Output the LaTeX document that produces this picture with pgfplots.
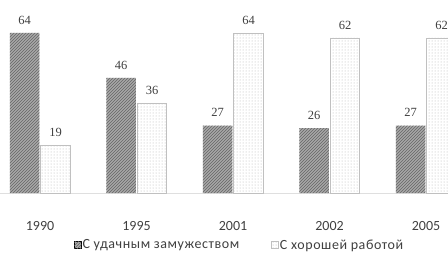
\documentclass[border=0pt]{standalone}
\usepackage{pgfplots}
\pgfplotsset{compat=1.18}
\usepackage{fontspec}
\setmainfont{Carlito}
\newfontfamily\numfont{Liberation Serif}
\usetikzlibrary{patterns}
\definecolor{darkfill}{HTML}{A8A8A8}
\definecolor{darkline}{HTML}{666666}
\definecolor{lightdot}{HTML}{B4B4B4}
\definecolor{lightborder}{HTML}{C0C0C0}
\definecolor{txt}{HTML}{404040}
\begin{document}
\begin{tikzpicture}
\begin{axis}[
  name=ax,
  scale only axis,
  width=448pt, height=193pt,
  xmin=-0.415, xmax=4.228,
  ymin=0, ymax=77.2,
  ybar=1.5pt,
  bar width=29.5pt,
  axis y line=none,
  axis x line*=bottom,
  x axis line style={-, draw=gray!25, line width=0.8pt},
  xtick={0,1,2,3,4},
  xticklabels={\mbox{1990},\mbox{1995},\mbox{2001},\mbox{2002},\mbox{2005}},
  xtick style={draw=none},
  xticklabel style={anchor=base, yshift=-33pt, font=\fontsize{14}{16}\selectfont, text=txt},
  nodes near coords={\pgfmathprintnumber[assume math mode=true]{\pgfplotspointmeta}},
  nodes near coords style={font=\numfont\fontsize{12.5}{14}\selectfont, text=txt, yshift=5pt},
  legend columns=2,
  legend style={draw=none, at={(0.535,-0.27)}, anchor=center,
    font=\fontsize{14}{16}\selectfont\addfontfeatures{LetterSpace=4}, text=txt,
    /tikz/every even column/.append style={column sep=30pt},
    /tikz/every odd column/.append style={column sep=-1pt}},
  legend image code/.code={\draw[#1] (0pt,-3pt) rectangle (7pt,4pt);},
]
\addplot[fill=darkfill, draw=none, postaction={pattern=north east lines, pattern color=darkline}]
  coordinates {(0,64) (1,46) (2,27) (3,26) (4,27)};
\addplot[fill=white, draw=lightborder, line width=0.6pt, postaction={pattern=dots, pattern color=lightdot}]
  coordinates {(0,19) (1,36) (2,64) (3,62) (4,62)};
\legend{С удачным замужеством, С хорошей работой}
\end{axis}
\pgfresetboundingbox
\path (ax.south west) ++(0,-61pt) rectangle (ax.north east);
\end{tikzpicture}
\end{document}
